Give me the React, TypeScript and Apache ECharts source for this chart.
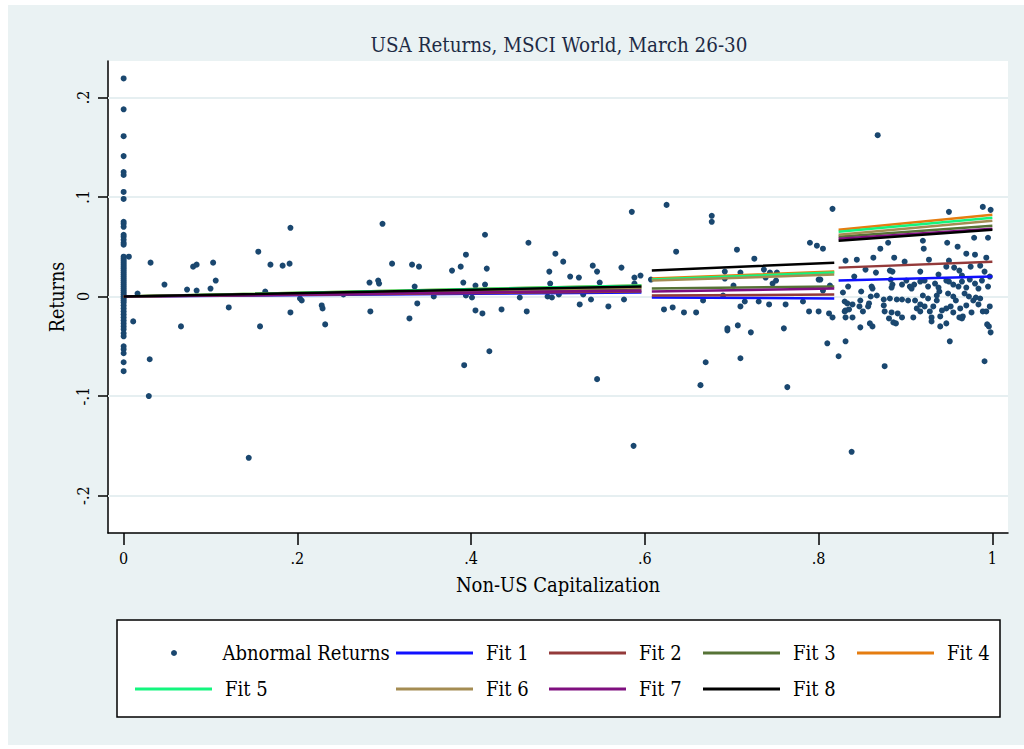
import React, { useEffect, useRef } from "react";
import * as echarts from "echarts";

const titleText = "USA Returns, MSCI World, March 26-30";
const xAxisTitle = "Non-US Capitalization";
const yAxisTitle = "Returns";
const xTicks = [0, 0.2, 0.4, 0.6, 0.8, 1];
const yTicks = [-0.2, -0.1, 0, 0.1, 0.2];

// Abnormal returns of firms with zero non-US capitalization
const zeroColumnY = [
  0.219, 0.188, 0.161, 0.141, 0.125, 0.122, 0.105, 0.098, 0.075, 0.073, 0.07, 0.062, 0.06, 0.057,
  0.054, 0.052, 0.04, 0.038, 0.036, 0.034, 0.032, 0.03, 0.028, 0.026, 0.024, 0.022, 0.02, 0.018,
  0.016, 0.014, 0.012, 0.01, 0.008, 0.006, 0.004, 0.002, 0.0, -0.002, -0.004, -0.006, -0.009,
  -0.012, -0.015, -0.018, -0.021, -0.024, -0.027, -0.03, -0.033, -0.037, -0.04, -0.05, -0.053,
  -0.057, -0.066, -0.075,
];

const lowCapPoints = [
  [0.006, 0.04], [0.031, 0.034], [0.047, 0.012], [0.016, 0.003], [0.073, 0.007], [0.084, 0.006],
  [0.08, 0.03], [0.084, 0.032], [0.103, 0.034], [0.106, 0.016], [0.1, 0.008], [0.121, -0.011],
  [0.066, -0.03], [0.011, -0.025], [0.155, 0.045], [0.169, 0.032], [0.183, 0.031], [0.191, 0.033],
  [0.192, 0.069], [0.163, 0.005], [0.157, -0.03], [0.192, -0.016], [0.203, -0.002], [0.205, -0.004],
  [0.228, -0.009], [0.229, -0.012], [0.232, -0.028], [0.253, 0.002], [0.03, -0.063], [0.029, -0.1],
  [0.144, -0.162], [0.284, -0.015], [0.298, 0.073], [0.309, 0.033], [0.283, 0.014], [0.293, 0.016],
  [0.294, 0.013], [0.332, 0.032], [0.34, 0.03], [0.335, 0.01], [0.338, -0.007], [0.329, -0.022],
  [0.357, 0.0], [0.378, 0.026], [0.388, 0.03], [0.394, 0.042], [0.391, 0.014], [0.394, 0.001],
  [0.401, -0.001], [0.405, -0.014], [0.413, -0.017], [0.416, 0.062], [0.418, 0.028], [0.416, 0.012],
  [0.405, 0.011], [0.392, -0.069], [0.421, -0.055], [0.435, -0.013], [0.456, -0.001], [0.464, -0.015],
  [0.466, 0.054], [0.49, 0.025], [0.491, 0.013], [0.497, 0.043], [0.506, 0.035], [0.488, 0.0],
  [0.493, -0.001], [0.501, 0.002], [0.514, 0.02], [0.524, 0.019], [0.525, -0.008], [0.529, 0.002],
  [0.538, -0.003], [0.54, 0.031], [0.545, 0.025], [0.548, 0.014], [0.545, -0.083], [0.558, -0.01],
  [0.573, 0.029], [0.576, -0.003], [0.588, 0.019], [0.595, 0.021], [0.585, 0.085], [0.587, -0.15],
  [0.588, 0.013],
];

const midCapPoints = [
  [0.607, 0.017], [0.636, 0.045], [0.622, -0.013], [0.632, -0.011], [0.645, -0.016], [0.659, -0.016],
  [0.667, -0.004], [0.67, -0.066], [0.664, -0.089], [0.692, 0.025], [0.692, 0.018], [0.69, 0.001],
  [0.695, -0.032], [0.695, -0.034], [0.702, 0.011], [0.706, 0.047], [0.707, -0.029], [0.71, -0.01],
  [0.71, -0.062], [0.71, 0.024], [0.715, -0.005], [0.722, -0.036], [0.726, 0.038], [0.731, -0.005],
  [0.737, 0.027], [0.739, 0.019], [0.743, -0.008], [0.744, 0.024], [0.747, 0.013], [0.751, 0.016],
  [0.752, 0.024], [0.76, -0.032], [0.762, -0.008], [0.764, -0.091], [0.782, -0.005], [0.789, -0.015],
  [0.79, 0.054], [0.798, 0.051], [0.8, 0.017], [0.802, 0.017], [0.8, -0.015], [0.805, 0.048],
  [0.805, 0.006], [0.81, -0.047], [0.812, -0.017], [0.813, 0.011], [0.816, -0.021], [0.625, 0.092],
  [0.677, 0.081], [0.677, 0.075], [0.816, 0.088],
];

const highCapPoints = [
  [0.823, -0.06], [0.831, 0.036], [0.828, 0.004], [0.83, -0.005], [0.831, -0.014], [0.834, 0.01],
  [0.831, -0.045], [0.876, -0.07], [0.991, -0.065], [0.951, -0.045], [0.989, 0.09], [0.998, 0.087],
  [0.95, 0.085], [0.995, 0.059], [0.979, 0.059], [0.948, 0.054], [0.96, 0.05], [0.92, 0.056],
  [0.921, 0.048], [0.88, 0.054], [0.871, 0.048], [0.844, 0.037], [0.863, 0.039], [0.887, 0.039],
  [0.899, 0.035], [0.927, 0.037], [0.95, 0.036], [0.97, 0.043], [0.98, 0.042], [0.986, 0.031],
  [0.993, 0.039], [0.975, 0.03], [0.956, 0.029], [0.947, 0.03], [0.962, 0.026], [0.965, 0.021],
  [0.938, 0.022], [0.854, 0.027], [0.866, 0.024], [0.882, 0.026], [0.885, 0.025], [0.917, 0.025],
  [0.841, 0.02], [0.849, 0.005], [0.861, 0.01], [0.862, 0.008], [0.883, 0.017], [0.885, 0.012],
  [0.884, 0.009], [0.896, 0.012], [0.901, 0.016], [0.905, 0.01], [0.91, 0.012], [0.907, 0.008],
  [0.917, 0.015], [0.922, 0.016], [0.926, 0.01], [0.934, 0.013], [0.938, 0.009], [0.947, 0.016],
  [0.95, 0.015], [0.955, 0.012], [0.961, 0.01], [0.965, 0.015], [0.97, 0.009], [0.974, 0.017],
  [0.98, 0.013], [0.984, 0.008], [0.988, 0.016], [0.991, 0.025], [0.995, 0.01], [0.997, 0.02],
  [0.833, -0.007], [0.839, -0.008], [0.848, -0.004], [0.847, -0.01], [0.858, -0.007], [0.875, -0.003],
  [0.875, -0.009], [0.882, -0.002], [0.89, -0.003], [0.896, -0.003], [0.884, -0.016], [0.891, -0.017],
  [0.896, -0.021], [0.909, -0.021], [0.903, -0.004], [0.911, -0.004], [0.917, -0.008], [0.922, -0.01],
  [0.92, 0.001], [0.926, -0.002], [0.928, -0.015], [0.93, -0.021], [0.932, -0.01], [0.936, -0.004],
  [0.939, 0.005], [0.94, -0.02], [0.947, -0.027], [0.94, -0.03], [0.93, -0.025], [0.889, -0.027],
  [0.862, -0.03], [0.859, -0.027], [0.848, -0.031], [0.83, -0.015], [0.835, -0.013], [0.831, -0.021],
  [0.839, -0.021], [0.952, -0.01], [0.955, 0.0], [0.958, -0.004], [0.963, -0.012], [0.966, -0.02],
  [0.968, 0.003], [0.97, -0.009], [0.973, 0.0], [0.976, -0.016], [0.978, -0.004], [0.981, -0.001],
  [0.984, -0.008], [0.986, -0.002], [0.989, -0.015], [0.993, -0.015], [0.994, -0.028], [0.996, -0.03],
  [0.998, -0.036], [0.997, -0.01], [0.955, -0.016], [0.962, -0.021], [0.965, -0.022], [0.947, -0.012],
  [0.942, -0.014], [0.917, -0.015], [0.913, -0.012], [0.876, -0.015], [0.881, -0.022], [0.886, -0.026],
  [0.867, 0.001], [0.86, 0.0], [0.857, -0.01], [0.851, -0.015], [0.949, 0.003], [0.936, 0.001],
  [0.868, 0.162], [0.838, -0.156],
];

// x-extent of each fitted segment
const segmentStarts = [0, 0.608, 0.823];
const segmentEnds = [0.596, 0.818, 1.0];

// fitted values at [seg1 start, seg1 end, seg2 start, seg2 end, seg3 start, seg3 end]
const fit1 = [0.0, 0.004, -0.001, -0.002, 0.016, 0.02];
const fit2 = [0.0, 0.005, 0.001, 0.002, 0.029, 0.035];
const fit3 = [0.0, 0.008, 0.008, 0.01, 0.06, 0.071];
const fit4 = [0.0, 0.011, 0.018, 0.025, 0.067, 0.082];
const fit5 = [0.0, 0.011, 0.017, 0.024, 0.065, 0.079];
const fit6 = [0.0, 0.009, 0.016, 0.022, 0.062, 0.076];
const fit7 = [0.0, 0.006, 0.005, 0.008, 0.058, 0.068];
const fit8 = [0.0, 0.01, 0.026, 0.034, 0.056, 0.067];

const fitNames = ["Fit 1", "Fit 2", "Fit 3", "Fit 4", "Fit 5", "Fit 6", "Fit 7", "Fit 8"];
const fitValues = [fit1, fit2, fit3, fit4, fit5, fit6, fit7, fit8];
const fitColors = ["#1010ff", "#943a3a", "#567336", "#e57d10", "#13f57e", "#a48c52", "#7f0f7f", "#000000"];
const scatterName = "Abnormal Returns";

const FONT = '"DejaVu Serif Condensed", "DejaVu Serif", serif';

function fmt(v: number): string {
  const r = Math.round(v * 10) / 10;
  if (r === 0) return "0";
  if (r === 1) return "1";
  return (r < 0 ? "-" : "") + String(Math.abs(r)).replace(/^0/, "");
}

function fitLine(vals: number[]) {
  const d: any[] = [];
  for (let s = 0; s < 3; s++) {
    if (s > 0) d.push([(segmentEnds[s - 1] + segmentStarts[s]) / 2, "-"]);
    d.push([segmentStarts[s], vals[2 * s]]);
    d.push([segmentEnds[s], vals[2 * s + 1]]);
  }
  return d;
}

export default function App() {
  const ref = useRef<HTMLDivElement>(null);
  useEffect(() => {
    if (!ref.current) return;
    const chart = echarts.init(ref.current, null, { renderer: "svg" });
    const scatterData = zeroColumnY
      .map((y) => [0, y])
      .concat(lowCapPoints, midCapPoints, highCapPoints);

    // legend layout: [left, top] per item
    const legendPos: Record<string, [number, number]> = {
      [scatterName]: [171, 643],
      "Fit 1": [396, 643],
      "Fit 2": [549, 643],
      "Fit 3": [703, 643],
      "Fit 4": [857, 643],
      "Fit 5": [135, 679],
      "Fit 6": [396, 679],
      "Fit 7": [549, 679],
      "Fit 8": [703, 679],
    };
    const legends = Object.keys(legendPos).map((name) => ({
      data: [name],
      left: legendPos[name][0],
      top: legendPos[name][1],
      padding: 0,
      orient: "horizontal",
      itemWidth: 77,
      itemHeight: name === scatterName ? 6 : 3,
      icon: name === scatterName ? "circle" : "rect",
      selectedMode: false,
      textStyle: {
        fontFamily: FONT,
        fontSize: 20,
        color: "#000",
        lineHeight: 20,
        padding: [0, 0, 0, name === scatterName ? 5 : 8],
      },
    }));

    const option: any = {
      animation: false,
      backgroundColor: "#eaf2f3",
      graphic: [
        { type: "rect", z: -5, shape: { x: 0, y: 0, width: 8, height: 749 }, style: { fill: "#ffffff" } },
        { type: "rect", z: -5, shape: { x: 0, y: 0, width: 1024, height: 5 }, style: { fill: "#ffffff" } },
        { type: "rect", z: -5, shape: { x: 0, y: 745, width: 1024, height: 4 }, style: { fill: "#ffffff" } },
        {
          type: "rect",
          z: 0,
          shape: { x: 117, y: 620, width: 883, height: 97 },
          style: { fill: "#ffffff", stroke: "#000000", lineWidth: 1.5 },
        },
        {
          type: "text",
          x: 559,
          y: 45,
          style: {
            text: titleText,
            fontFamily: FONT,
            fontSize: 20.4,
            fill: "#1e2b45",
            align: "center",
            verticalAlign: "middle",
          },
        },
      ],
      grid: {
        left: 108,
        top: 61,
        right: 16,
        bottom: 216,
        show: true,
        backgroundColor: "#ffffff",
        borderWidth: 0,
      },
      legend: legends,
      xAxis: {
        type: "value",
        min: -0.018,
        max: 1.018,
        name: xAxisTitle,
        nameLocation: "middle",
        nameGap: 42,
        nameTextStyle: { fontFamily: FONT, fontSize: 20, color: "#000" },
        axisLine: { show: true, onZero: false, lineStyle: { color: "#000", width: 1.5 } },
        axisTick: { show: true, length: 12, customValues: xTicks, lineStyle: { color: "#000", width: 1.5 } },
        axisLabel: {
          customValues: xTicks,
          formatter: (v: number) => fmt(v),
          fontFamily: FONT,
          fontSize: 16,
          color: "#000",
          margin: 17,
        },
        splitLine: { show: false },
      },
      yAxis: {
        type: "value",
        min: -0.2375,
        max: 0.2365,
        name: yAxisTitle,
        nameLocation: "middle",
        nameGap: 36,
        nameTextStyle: { fontFamily: FONT, fontSize: 19.5, color: "#000" },
        axisLine: { show: true, onZero: false, lineStyle: { color: "#000", width: 1.5 } },
        axisTick: { show: true, length: 10, customValues: yTicks, lineStyle: { color: "#000", width: 1.5 } },
        axisLabel: {
          customValues: yTicks,
          formatter: (v: number) => fmt(v),
          rotate: 90,
          fontFamily: FONT,
          fontSize: 16,
          color: "#000",
          margin: 17,
        },
        splitLine: { show: false },
      },
      series: [
        {
          name: scatterName,
          type: "scatter",
          data: scatterData,
          symbol: "circle",
          symbolSize: 6,
          itemStyle: { color: "#1a476f", opacity: 1 },
          z: 2,
          markLine: {
            silent: true,
            symbol: "none",
            z: 1,
            label: { show: false },
            lineStyle: { color: "#e6eff1", width: 2, type: "solid" },
            data: yTicks.map((v) => ({ yAxis: v })),
          },
        },
        ...fitNames.map((name, i) => ({
          name,
          type: "line",
          data: fitLine(fitValues[i]),
          symbol: "none",
          showSymbol: false,
          connectNulls: false,
          lineStyle: { color: fitColors[i], width: 2.5 },
          itemStyle: { color: fitColors[i] },
          z: 3 + i,
        })),
      ],
    };
    chart.setOption(option);
    return () => chart.dispose();
  }, []);
  return (
    <div
      ref={ref}
      style={{ position: "absolute", left: 0, top: 0, width: 1024, height: 749 }}
    />
  );
}
